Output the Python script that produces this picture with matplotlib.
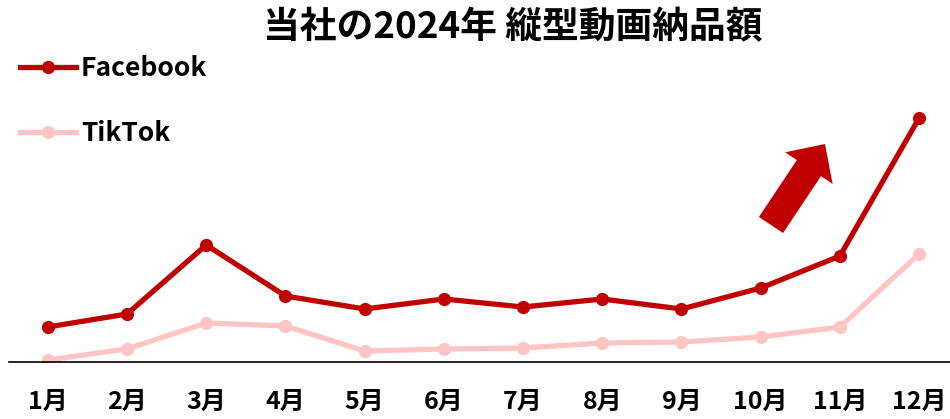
import matplotlib
matplotlib.use("Agg")
import matplotlib.pyplot as plt
from matplotlib.patches import FancyArrow

plt.rcParams['font.family'] = ['Noto Sans CJK JP', 'DejaVu Sans']
plt.rcParams['font.weight'] = 'bold'

# data
months = ['1月', '2月', '3月', '4月', '5月', '6月', '7月', '8月', '9月', '10月', '11月', '12月']
facebook = [35, 48, 117, 66, 53, 63, 55, 63, 53, 74, 106, 244]
tiktok = [2, 13, 39, 36, 11, 13, 14, 19, 20, 25, 35, 108]

fb_color = '#C00000'
tt_color = '#FFC5C5'

W, H = 950, 419
fig = plt.figure(figsize=(W / 100, H / 100), dpi=100)
# axes from x=9px to right edge, baseline at y=362px
ax = fig.add_axes([9 / W, 1 - 362 / H, 941 / W, 262 / H])

x = list(range(len(months)))
ax.plot(x, tiktok, color=tt_color, lw=3.8, marker='o', ms=8.5, label='TikTok', zorder=2)
ax.plot(x, facebook, color=fb_color, lw=3.8, marker='o', ms=8.5, label='Facebook', zorder=3)

ax.set_xlim(-0.49, 11.39)
ax.set_ylim(0, 262)
ax.set_xticks(x)
ax.set_xticklabels(months, fontsize=18, fontweight='bold')
ax.tick_params(axis='x', length=0, pad=20)
ax.set_yticks([])
for s in ['top', 'right', 'left']:
    ax.spines[s].set_visible(False)
ax.spines['bottom'].set_linewidth(1.2)
ax.spines['bottom'].set_color('black')

fig.text(513 / W, 1 - 28 / H, '当社の2024年 縦型動画納品額', ha='center', va='center',
         fontsize=26.5, fontweight='bold')

handles, labels = ax.get_legend_handles_labels()
fig.legend(handles[::-1], labels[::-1], loc='upper left',
           bbox_to_anchor=(7 / W, 1 - 42 / H), frameon=False,
           prop={'size': 19, 'weight': 'bold'}, handlelength=2.1,
           handletextpad=0.2, labelspacing=1.45, borderpad=0)

# decorative up-right arrow (inches from bottom-left)
arrow = FancyArrow(7.71, (H - 225) / 100, 0.54, 0.81, width=0.29, head_width=0.57,
                   head_length=0.29, length_includes_head=True,
                   transform=fig.dpi_scale_trans, color=fb_color, lw=0)
fig.add_artist(arrow)

fig.savefig('out.png', dpi=100)
